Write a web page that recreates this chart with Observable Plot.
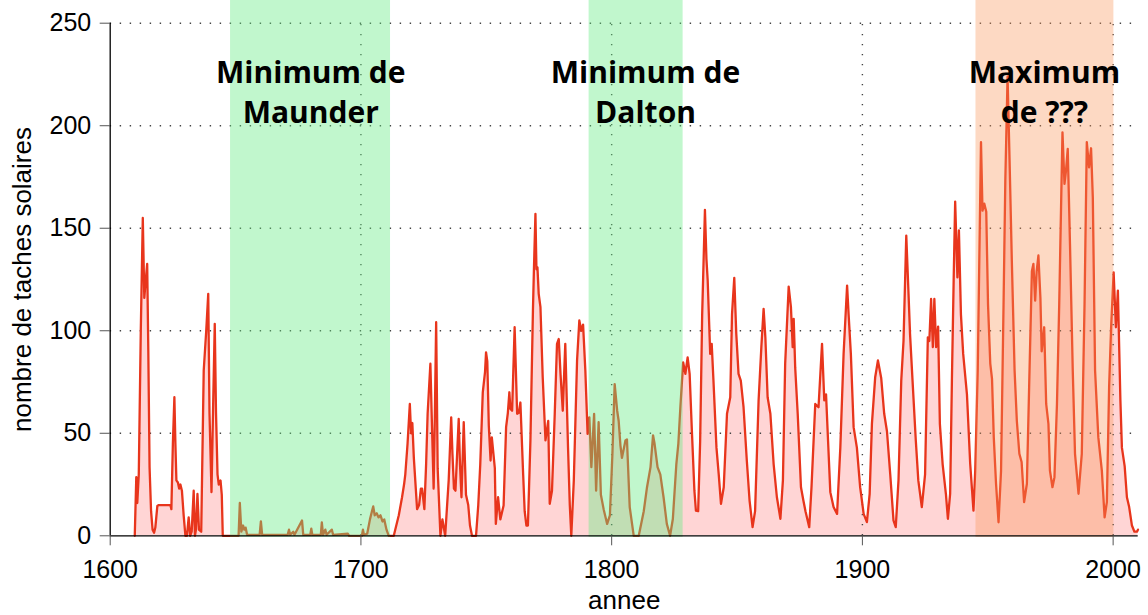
<!DOCTYPE html>
<html><head><meta charset="utf-8">
<script src="https://cdn.jsdelivr.net/npm/d3@7"></script>
<script src="https://cdn.jsdelivr.net/npm/@observablehq/plot@0.6"></script>
<style>body{margin:0;background:#fff;overflow:hidden}</style>
</head><body><div id="chart"></div>
<script>
const years = [
1609.8,1610.4,1610.8,1611.4,1612.2,1613.0,1613.6,1614.2,1614.75,1615.2,1615.7,1616.3,1616.9,1617.5,1618.0,1618.8,1619.4,1624.0,1624.4,1625.0,1625.6,1626.0,1626.4,1627.0,1627.5,1628.0,1628.6,1629.3,1630.0,1630.6,1631.3,1631.9,1632.5,1633.3,1633.8,1634.2,1634.8,1635.4,1636.3,1637.3,1638.3,1639.1,1639.6,1640.4,1641.0,1641.7,1642.2,1642.8,1643.3,1644.0,1644.5,1644.9,
1645.5,1651.2,1651.7,1652.3,1653.0,1653.5,1654.0,1654.6,1659.6,1660.1,1660.6,1670.8,1671.3,1671.8,1673.0,1673.5,1676.5,1677.0,1679.8,1680.2,1680.6,1684.0,1684.4,1684.9,1685.8,1686.3,1688.4,1688.9,1694.8,1695.3,1700.4,1700.8,1701.2,1702.5,1703.6,1704.4,1704.9,1705.5,1706.3,1707.0,1707.8,1708.6,1709.3,1710.2,1711.1,1713.1,
1715.1,1716.4,1717.2,1717.7,1718.6,1719.5,1720.0,1720.5,1721.1,1722.4,1723.2,1723.9,1724.4,1725.3,1726.0,1726.6,1727.7,1728.2,1729.0,1729.5,1730.0,1730.6,1731.7,1732.5,1733.6,1735.0,1736.0,1736.5,1737.1,1737.7,1739.0,1739.5,1740.1,1741.0,1741.9,1742.8,1743.5,1744.3,1745.9,1746.8,1747.6,1748.6,1749.5,1749.9,1750.4,1751.0,1751.7,1752.2,1752.6,1753.4,1753.8,1754.7,1755.6,1756.9,1757.9,1758.6,1759.2,1759.6,1760.3,1761.3,1762.3,1763.0,1763.6,1764.7,1765.3,1766.0,1766.6,1767.6,1768.6,1769.0,1769.6,1770.0,1770.4,1770.9,1771.6,1772.5,1773.6,1774.7,1775.3,1776.2,1777.3,1778.2,1778.9,1779.6,1780.5,1781.5,1782.6,1783.3,1783.9,1784.9,1786.2,1787.1,1787.9,1788.6,1789.5,1790.4,1791.1,1791.9,1793.0,1793.8,1794.8,1795.7,1796.8,1798.2,1799.3,1800.3,1801.2,1802.2,1802.8,1803.5,1804.1,1805.5,1806.1,1807.2,1808.8,1810.8,1812.8,1814.1,1815.5,1816.5,1817.1,1818.3,1819.4,1820.7,1822.0,1823.3,1824.4,1825.8,1826.6,1827.4,1828.5,1829.4,1830.3,1831.1,1832.0,1833.0,1833.6,1834.5,1835.3,1836.1,1837.2,1837.8,1838.3,1839.3,1839.9,1840.6,1841.8,1842.7,1843.6,1844.7,1846.0,1847.3,1848.0,1848.9,1849.7,1850.6,1851.5,1852.6,1853.9,1855.0,1856.2,1857.2,1858.6,1859.7,1860.6,1861.3,1862.2,1863.3,1864.6,1865.9,1867.3,1868.3,1869.2,1870.6,1871.5,1872.2,1872.6,1873.2,1874.2,1875.5,1876.5,1877.3,1878.8,1879.7,1881.2,1882.5,1883.9,1884.8,1885.5,1886.3,1887.2,1888.5,1889.9,1891.2,1892.5,1893.9,1894.5,1895.4,1896.5,1897.8,1899.1,1900.5,1901.8,1902.9,1903.8,1905.1,1906.2,1907.5,1908.7,1909.8,1911.1,1912.4,1913.3,1914.4,1915.5,1916.4,1917.5,1918.4,1919.0,1920.0,1921.3,1922.3,1923.7,1925.0,1926.1,1926.7,1927.4,1928.1,1928.7,1929.4,1930.2,1930.9,1932.0,1933.3,1934.1,1935.0,1935.7,1936.4,1937.0,1937.9,1938.5,1939.3,1940.2,1941.7,1943.0,1944.3,1945.0,1946.0,1947.3,1947.9,1948.6,1949.4,1950.1,1951.0,1951.7,1952.4,1953.3,1954.3,1955.3,1956.3,1957.0,1957.9,1958.7,1959.6,1960.7,1961.6,1962.6,1963.5,1964.5,1965.6,1966.5,1967.6,1968.2,1968.9,1969.5,1970.2,1971.0,1971.5,1972.5,1973.3,1974.2,1974.8,1975.8,1976.6,1977.6,1978.5,1979.8,1980.6,1981.2,1981.9,1982.8,1983.9,1984.8,1986.2,1987.5,1988.6,1989.5,1990.4,1991.2,1991.9,1992.8,1994.1,1995.5,1996.6,1997.5,1998.4,1999.2,2000.2,2001.1,2001.9,2002.9,2003.5,2004.6,2005.5,2006.4,2007.5,2008.5,2009.5,2009.9
];
const sunspots = [
0,28.6,16,30,100,155,116,125,132.6,90,33.5,12,3,1.5,4,14.5,15,15,13,45,67.6,45,27,26,23,25,22,10,0,0,9,0,2,22,0,3,20.4,3,2,80.6,100,118,60,21.3,60,103.4,60,30,25,27,20,0,
0,0,16,2,5,3,4,0.5,0.5,7,0.5,0.5,3,0.5,2,0.5,7.5,0.5,0.5,3.5,0.5,0.5,6.5,0.5,3,0.5,3,0.5,1,0,0,3,0.5,1,8,12,14.3,10,11,9,10,7,8,3,0,0,
10,18.8,25,30,45,64.3,50,55,38,13,15,23,23,13,35,59.5,83.9,60,23,60,104.2,33,0,8,0,27,57.8,40,23,22,57,35,18.8,55.4,20,15,5,0,0,15,35,70,80,89.5,85,53.8,36.7,48,43,33,5.8,18.8,8,14.8,53,60,70,62,61,101.7,59.5,60,65,30,12,5,5,46.5,109.8,130,157,130,131,118,111.5,77.3,46.5,56,15.6,22,59.5,93.6,96,79,61,93.6,43,15,0,27,85.5,105,100,103,80.6,49.7,57.8,33.5,59.5,22,55.4,20,13,5.8,10,40,74,61,56,44,38,46.5,47,14,0,0,12,23.7,33.5,49,45,33.5,30,18.8,5.8,0,8.2,35,45,62.7,84.6,79,87,79,51,22,12.3,12,46.5,108,159,135,124.5,88.7,93.6,75.7,43,30,15.6,23.7,59.5,67.6,108,125.8,98.5,79,75.7,62.7,36.7,17.2,4.2,12,66,92,110.7,96.8,67.6,59.5,35,18.8,8.3,27,83.9,121.5,111.5,92,105.8,82,59.5,23.7,17,12,4.2,23.7,64.3,62.7,93.6,66,69,46.5,21.3,14,10.7,43,88.7,122,108,88.7,53,43,23.7,10.7,6.7,20.5,54.6,77.3,85.5,77,59.5,51,30,7.5,4.2,27,75.7,95,146.4,118,98.5,75.7,46.5,27,14,30,96.8,95,115.5,92,115.5,92,102,54.6,35,20.5,8.3,20.5,75.7,124.5,163,126,149,108,88.7,69,35,12.3,31.8,80.6,192,158.6,162,158,113,84,76.5,48,25.4,6.6,31.8,113,173,224,183,134,80.6,56,40,36,16.4,25.4,72.5,129,132.6,114.7,129,136.7,116,90,101.7,64.3,54.6,31.8,23.7,28.6,64.3,113,196.8,171.6,178,188.7,142,80.6,40,20.5,40,113,192,179.7,189,165,80.6,48,31.8,9,16.4,72.5,101.7,128.5,101.7,119.6,66,43,34,18.8,14,5,2,2,3
];
const bandNames = ["Minimum de\nMaunder", "Minimum de\nDalton", "Maximum\nde ???"];
const bandStart = [1648, 1791, 1945.3];
const bandEnd = [1711.8, 1828.5, 2000.3];
const bandLabelYear = [1680, 1813.5, 1972.6];
const bandKind = ["min", "min", "max"];
const yTicks = [0, 50, 100, 150, 200, 250];
const xTicks = [1600, 1700, 1800, 1900, 2000];
const xLabel = "annee";
const yLabel = "nombre de taches solaires";

const data = years.map((y, i) => ({year: y, n: sunspots[i]}));
const bands = bandNames.map((name, i) => ({name, x1: bandStart[i], x2: bandEnd[i], xl: bandLabelYear[i], kind: bandKind[i]}));

const chart = Plot.plot({
  width: 1148, height: 615,
  marginLeft: 109.7, marginRight: 10.3, marginTop: 22.7, marginBottom: 79.7,
  x: {domain: [1600, 2010]},
  y: {domain: [0, 250]},
  style: {fontFamily: "'Liberation Sans', Arial, sans-serif", fontSize: "25px", background: "white", overflow: "visible"},
  marks: [
    Plot.areaY(data, {x: "year", y: "n", fill: "#ffd5d5"}),
    Plot.ruleY(yTicks.filter(d => d > 0), {x1: 1600, x2: 2010, stroke: "#444", strokeWidth: 1.4, strokeDasharray: "1.4,8.6"}),
    Plot.ruleX(xTicks.filter(d => d > 1600), {y1: 0, y2: 250, stroke: "#444", strokeWidth: 1.4, strokeDasharray: "1.4,8.6"}),
    Plot.line(data, {x: "year", y: "n", stroke: "#e8351c", strokeWidth: 2.3, strokeLinejoin: "round"}),
    Plot.rect(bands.filter(d => d.kind === "min"), {x1: "x1", x2: "x2", y1: -0.8, y2: 262, fill: "rgb(100,235,130)", fillOpacity: 0.4}),
    Plot.rect(bands.filter(d => d.kind === "max"), {x1: "x1", x2: "x2", y1: -0.8, y2: 262, fill: "rgb(250,150,90)", fillOpacity: 0.36}),
    Plot.ruleY([0], {x1: 1600, x2: 2010, stroke: "black", strokeWidth: 1.3}),
    Plot.ruleX([1600], {y1: 0, y2: 250, stroke: "black", strokeWidth: 1.3}),
    Plot.axisY({ticks: yTicks, tickSize: 10, tickPadding: 9, stroke: "#555", fill: "black", fontSize: 25, label: null}),
    Plot.axisX({ticks: xTicks, tickSize: 10, tickPadding: 14, stroke: "#555", fill: "black", fontSize: 25, label: null, tickFormat: d => String(d)}),
    Plot.text(bands, {x: "xl", y: 234.8, text: "name", lineAnchor: "top", lineHeight: 1.333, fontSize: 30, fontWeight: "bold", fontFamily: "'Open Sans', sans-serif", fill: "black"}),
    Plot.text([yLabel], {frameAnchor: "left", dx: -87.7, rotate: -90, textAnchor: "middle", lineAnchor: "middle", fontSize: 26, fill: "black"}),
    Plot.text([xLabel], {frameAnchor: "bottom", dy: 65, textAnchor: "middle", lineAnchor: "middle", fontSize: 26, fill: "black"})
  ]
});
document.getElementById("chart").appendChild(chart);
</script>
</body></html>
